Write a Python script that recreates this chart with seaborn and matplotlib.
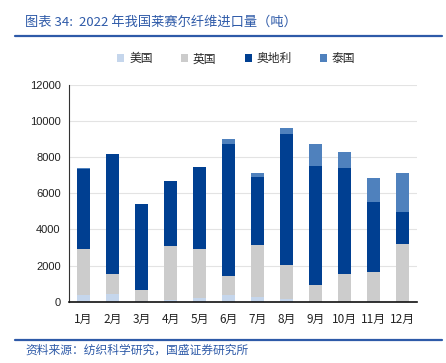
import numpy as np
import pandas as pd
import matplotlib
matplotlib.use("Agg")
import matplotlib.pyplot as plt
from matplotlib.patches import Patch
from matplotlib.lines import Line2D
import seaborn as sns

months = ["1月", "2月", "3月", "4月", "5月", "6月", "7月", "8月", "9月", "10月", "11月", "12月"]
usa = [380, 430, 30, 100, 200, 370, 260, 150, 0, 0, 40, 0]
uk = [2520, 1100, 620, 2970, 2700, 1030, 2890, 1900, 930, 1550, 1580, 3180]
austria = [4450, 6620, 4730, 3580, 4570, 7320, 3730, 7200, 6600, 5830, 3910, 1770]
thailand = [30, 30, 0, 0, 0, 280, 220, 350, 1200, 910, 1320, 2150]

series_names = ["美国", "英国", "奥地利", "泰国"]
colors = ["#c5d6ec", "#cccccc", "#003f91", "#4f81bd"]

sns.set_style("white")
plt.rcParams["font.family"] = ["Noto Sans CJK SC", "DejaVu Sans"]

df = pd.DataFrame({"month": months, "美国": usa, "英国": uk, "奥地利": austria, "泰国": thailand})
# cumulative tops, drawn from the tallest down
cum = df[series_names].cumsum(axis=1)

fig = plt.figure(figsize=(4.46, 3.63), dpi=100)
ax = fig.add_axes([0.1547, 0.1689, 0.7803, 0.5978])

for name, col in reversed(list(zip(series_names, colors))):
    sns.barplot(x=df["month"], y=cum[name], color=col, width=0.45,
                saturation=1, ax=ax, zorder=2, linewidth=0)

ax.set_ylim(0, 12000)
ax.set_yticks(range(0, 12001, 2000))
ax.set_xlim(-0.5, 11.5)
ax.set_xlabel("")
ax.set_ylabel("")
ax.set_axisbelow(True)
ax.yaxis.grid(True, color="#e3e3e3", linewidth=0.8)
for s in ["top", "right"]:
    ax.spines[s].set_visible(False)
ax.spines["left"].set_color("#333333")
ax.spines["bottom"].set_color("#111111")
ax.spines["bottom"].set_linewidth(1.2)
ax.spines["bottom"].set_zorder(5)
ax.spines["left"].set_zorder(5)
ax.tick_params(axis="y", labelsize=8, length=0, pad=6, labelcolor="#222222")
ax.tick_params(axis="x", labelsize=8.5, length=0, pad=8, labelcolor="#222222")
for lbl in ax.get_yticklabels():
    lbl.set_family(["Liberation Sans", "DejaVu Sans"])
# minor ticks between categories on x axis
ax.set_xticks(np.arange(-0.5, 12, 1), minor=True)
ax.tick_params(axis="x", which="minor", length=4, width=1, direction="out", color="#111111")

handles = [Patch(facecolor=c, edgecolor="none") for c in colors]
fig.legend(handles, series_names, loc="center", bbox_to_anchor=(0.53, 0.838), ncol=4,
           frameon=False, fontsize=8.5, handlelength=0.6, handleheight=0.6,
           handletextpad=0.4, columnspacing=2.4)

blue = "#2e5aa8"
fig.text(0.056, 0.94, "图表 34:  2022 年我国莱赛尔纤维进口量（吨）", color=blue,
         fontsize=9.5, style="italic", va="center", ha="left")
fig.add_artist(Line2D([0.034, 0.99], [0.9, 0.9], color=blue, linewidth=1.6))
fig.add_artist(Line2D([0.034, 0.99], [0.062, 0.062], color=blue, linewidth=1.6))
fig.text(0.056, 0.035, "资料来源：纺织科学研究，国盛证券研究所", color=blue,
         fontsize=8.5, style="italic", va="center", ha="left")

fig.savefig("out.png", dpi=100)
